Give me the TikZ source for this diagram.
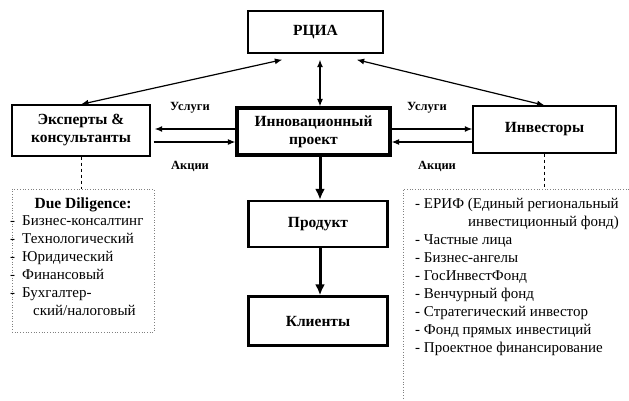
\documentclass[tikz,border=0pt]{standalone}
\usepackage{fontspec}
\setmainfont{Liberation Serif}
\usetikzlibrary{arrows.meta,calc}
\begin{document}
\begin{tikzpicture}[x=1pt,y=-1pt,
  boxa/.style={draw,line width=1.4pt,rectangle,align=center,font=\fontsize{15.5}{18}\selectfont\bfseries,inner sep=0pt},
  boxb/.style={boxa,line width=2.4pt},
  boxc/.style={boxa,line width=3.2pt},
  thinarr/.style={line width=1.2pt,-{Latex[length=7.5pt,width=6pt]}},
  thinboth/.style={line width=1.2pt,{Latex[length=7.5pt,width=6pt]}-{Latex[length=7.5pt,width=6pt]}},
  thickarr/.style={line width=3pt,-{Latex[length=11pt,width=10pt]}},
  lbl/.style={font=\fontsize{12.5}{14}\selectfont\bfseries,inner sep=0pt},
  item/.style={font=\fontsize{15}{18}\selectfont,anchor=west,inner sep=0pt,text height=10pt,text depth=3pt},
  listbox/.style={draw=gray,dotted,line width=0.7pt},
  conn/.style={dashed,line width=0.8pt}
]
\useasboundingbox (0,0) rectangle (629,400);
\node[boxa,minimum width=135pt,minimum height=42pt] (rcia) at (315.5,32) {РЦИА};
\node[boxc,minimum width=153pt,minimum height=47pt] (proj) at (313.5,131.5) {Инновационный\\проект};
\node[boxa,minimum width=138pt,minimum height=51pt] (exp) at (81,130.5) {Эксперты \&\\консультанты};
\node[boxa,minimum width=143pt,minimum height=47pt] (inv) at (544.5,129.5) {Инвесторы};
\node[boxb,minimum width=139pt,minimum height=46pt] (prod) at (318,224) {Продукт};
\node[boxb,minimum width=139pt,minimum height=49pt] (cli) at (318,321) {Клиенты};

\coordinate (ax) at (320,0);
% RCIA links
\draw[thinboth] (exp.north) -- ([xshift=35pt,yshift=-6pt]rcia.south west);
\draw[thinboth] (inv.north) -- ([xshift=-27pt,yshift=-6pt]rcia.south east);
\draw[thinboth] ([yshift=-6pt]rcia.south -| ax) -- (proj.north -| ax);
% services / shares
\coordinate (yu) at (0,129);
\coordinate (yd) at (0,142);
\draw[thinarr] (proj.west |- yu) -- ([xshift=4pt]exp.east |- yu);
\draw[thinarr] ([xshift=3pt]exp.east |- yd) -- (proj.west |- yd);
\draw[thinarr] (proj.east |- yu) -- (inv.west |- yu);
\draw[thinarr] (inv.west |- yd) -- (proj.east |- yd);
\node[lbl] (u1) at (190,108) {Услуги};
\node[lbl] (a1) at (190,166) {Акции};
\node[lbl] (u2) at (427,108) {Услуги};
\node[lbl] (a2) at (437,166) {Акции};
% main flow
\draw[thickarr] (proj.south -| ax) -- (prod.north -| ax);
\draw[thickarr] (prod.south -| ax) -- (cli.north -| ax);
% due diligence
\node[listbox,minimum width=142pt,minimum height=143pt,inner sep=0pt] (dd) at (83,260.5) {};
\draw[conn] (exp.south) -- (exp.south |- dd.north);
\node[font=\fontsize{15.5}{18}\selectfont\bfseries,inner sep=0pt] (ddt) at (83,205) {Due Diligence:};
\foreach \t/\y [count=\i] in {Бизнес-консалтинг/222,Технологический/240,Юридический/258,Финансовый/276,Бухгалтер-/294}{
  \node[item] (dd\i) at (22,\y) {\t};
  \node[item] (ddm\i) at (10,\y) {-};
}
\node[item] (dd6) at (33,312) {ский/налоговый};
% investors list
\coordinate (il) at (403,189);
\draw[listbox] (629,189) -- (il) -- (403,400);
\draw[conn] (inv.south) -- (inv.south |- il);
\foreach \t/\y [count=\i] in {- ЕРИФ (Единый региональный/205,- Частные лица/241,- Бизнес-ангелы/259,- ГосИнвестФонд/277,- Венчурный фонд/295,- Стратегический инвестор/313,- Фонд прямых инвестиций/331,- Проектное финансирование/349}{
  \node[item] (iv\i) at (415,\y) {\t};
}
\node[item] (iv0) at (468,223) {инвестиционный фонд)};
\end{tikzpicture}
\end{document}
